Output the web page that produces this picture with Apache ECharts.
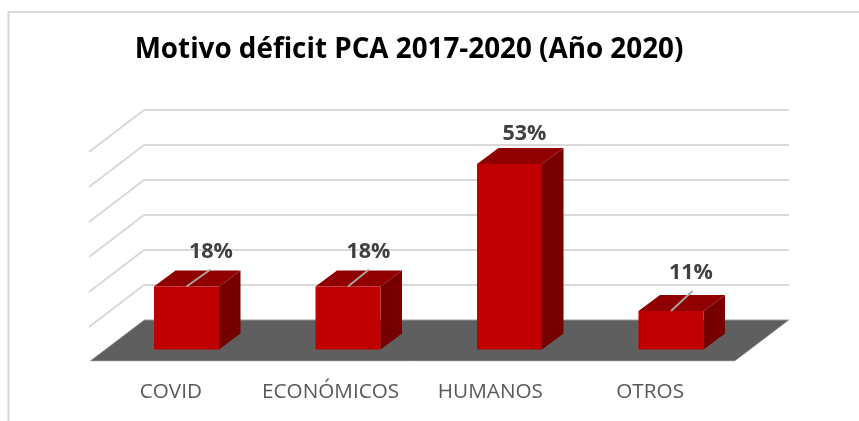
<!DOCTYPE html>
<html><head><meta charset="utf-8">
<style>html,body{margin:0;padding:0;background:#fff}#c{width:859px;height:421px}</style>
<script src="https://cdn.jsdelivr.net/npm/echarts@6/dist/echarts.min.js"></script>
</head><body><div id="c"></div>
<script>
const titleText = 'Motivo déficit PCA 2017-2020 (Año 2020)';
const categories = ['COVID', 'ECONÓMICOS', 'HUMANOS', 'OTROS'];
const values = [18, 18, 53, 11];
const wallTicks = [10, 20, 30, 40, 50, 60];
const axisMax = 60;
const axisStep = 10;

const depth = {dx: 21.5, dy: -16};
const labelShift = [[24.5, -35], [20.5, -35], [15, -30], [20, -38]];
const leaderEnd = [[24, -17], [21, -17], null, [21.5, -20]];
const sideDx = -55, sideDy = 42;
const boldFam = '"Open Sans", sans-serif';
const fontFam = '"Open Sans", sans-serif';

const chart = echarts.init(document.getElementById('c'), null, {renderer: 'canvas'});
const hiddenX = i => ({type: 'category', gridIndex: i, data: categories, show: false});
const hiddenY = i => ({type: 'value', gridIndex: i, min: 0, max: axisMax, interval: axisStep, show: false});

chart.setOption({
  animation: false,
  backgroundColor: '#ffffff',
  title: {
    text: titleText, left: 404, top: 31, textAlign: 'center',
    textStyle: {fontFamily: boldFam, fontWeight: 'bold', fontSize: 27.8, color: '#000000'}
  },
  graphic: [{
    type: 'polyline', silent: true, z: 0,
    shape: {points: [[8.5, 421], [8.5, 12], [859, 12]]},
    style: {stroke: '#d9d9d9', lineWidth: 2, fill: 'none'}
  }],
  grid: [
    {left: 144, width: 645, top: 110, height: 210},
    {left: 91, width: 639, top: 151, height: 210},
    {left: 105.75, width: 646, top: 139.5, height: 210}
  ],
  xAxis: [
    hiddenX(0),
    {type: 'category', gridIndex: 1, data: categories,
     axisLine: {show: false}, axisTick: {show: false},
     axisLabel: {margin: 21, fontFamily: fontFam, fontSize: 20.7, color: '#595959', interval: 0}},
    hiddenX(2)
  ],
  yAxis: [
    {type: 'value', gridIndex: 0, min: 0, max: axisMax, interval: axisStep,
     axisLine: {show: false}, axisTick: {show: false}, axisLabel: {show: false},
     splitLine: {show: true, lineStyle: {color: '#d9d9d9', width: 2}}},
    hiddenY(1),
    hiddenY(2)
  ],
  series: [
    {
      type: 'custom', xAxisIndex: 0, yAxisIndex: 0, z: 1, silent: true,
      data: wallTicks.map(v => [0, v]),
      renderItem(params, api) {
        const y = api.coord([0, api.value(1)])[1];
        const x = params.coordSys.x;
        return {type: 'polyline', shape: {points: [[x, y], [x + sideDx, y + sideDy]]},
                style: {stroke: '#d9d9d9', lineWidth: 2, fill: 'none'}};
      }
    },
    {
      type: 'custom', xAxisIndex: 0, yAxisIndex: 0, z: 2, silent: true,
      data: [[0, 0]],
      renderItem(params, api) {
        const c = params.coordSys;
        const y = api.coord([0, 0])[1];
        return {type: 'polygon',
          shape: {points: [[c.x, y], [c.x + c.width, y],
                           [c.x + c.width - 54, y + 41], [c.x - 54, y + 41]]},
          style: {fill: '#5f5f5f', stroke: '#bdbdbd', lineWidth: 0.6}};
      }
    },
    {
      type: 'custom', xAxisIndex: 2, yAxisIndex: 2, z: 3, silent: true,
      data: values.map((v, i) => [i, v]),
      renderItem(params, api) {
        const i = api.value(0), v = api.value(1);
        const top = api.coord([i, v]), base = api.coord([i, 0]);
        const half = 32.5;
        const l = top[0] - half, r = top[0] + half, t = top[1], b = base[1];
        const {dx, dy} = depth;
        const kids = [
          {type: 'polygon', shape: {points: [[r, t], [r + dx, t + dy], [r + dx, b + dy], [r, b]]},
           style: {fill: '#760000'}},
          {type: 'polygon', shape: {points: [[l, t], [l + dx, t + dy], [r + dx, t + dy], [r, t]]},
           style: {fill: '#900000'}},
          {type: 'rect', shape: {x: l, y: t, width: r - l, height: b - t},
           style: {fill: '#c00000'}}
        ];
        const le = leaderEnd[i];
        if (le) kids.push({type: 'line', shape: {x1: top[0], y1: t, x2: top[0] + le[0], y2: t + le[1]},
           style: {stroke: '#a6a6a6', lineWidth: 1.8}});
        const ls = labelShift[i];
        kids.push({type: 'text', x: top[0] + ls[0], y: t + ls[1],
          style: {text: v + '%', fontFamily: boldFam, fontWeight: 'bold', fontSize: 21.5,
                  fill: '#404040', align: 'center', verticalAlign: 'middle'}});
        return {type: 'group', children: kids};
      }
    }
  ]
});
</script></body></html>
